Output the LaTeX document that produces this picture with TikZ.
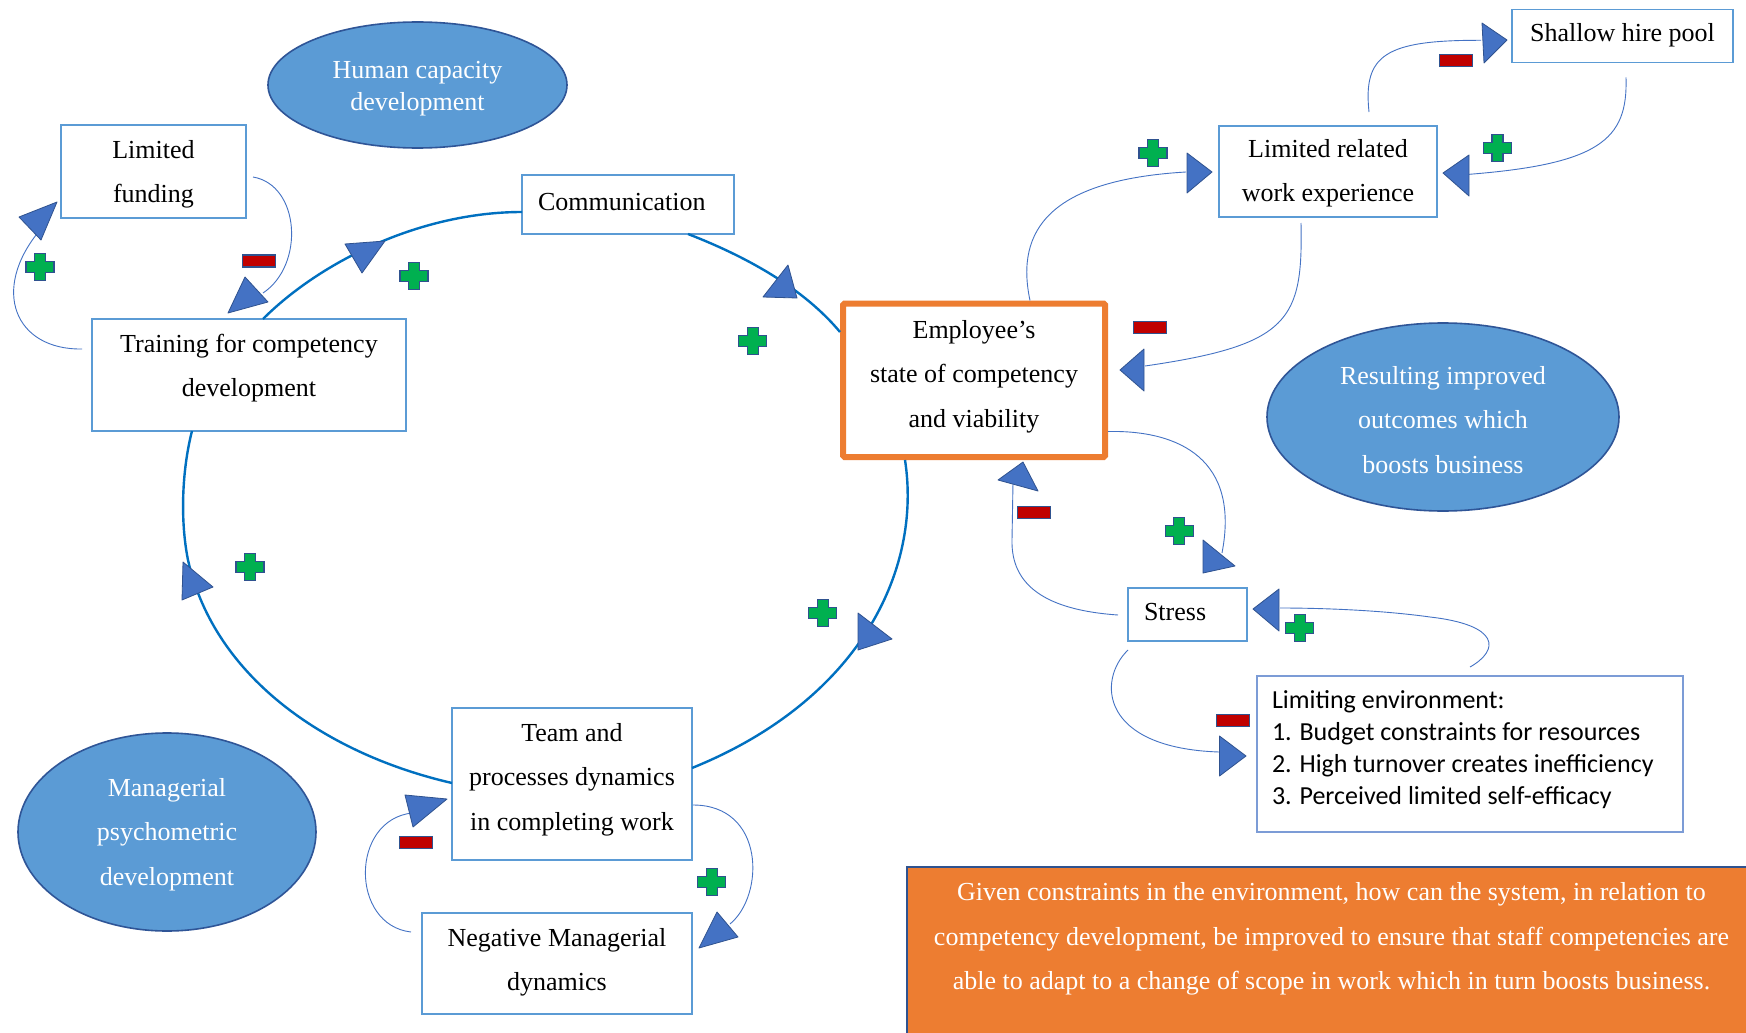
\documentclass[tikz,border=0pt]{standalone}
\usepackage{fontspec}
\setmainfont{Liberation Serif}
\newfontfamily\calfont{Carlito}
\usetikzlibrary{shapes.geometric,calc}

\definecolor{loopblue}{HTML}{0070C0}
\definecolor{linkblue}{HTML}{4472C4}
\definecolor{tipblue}{HTML}{4472C4}
\definecolor{tipedge}{HTML}{2F528F}
\definecolor{boxedge}{HTML}{5B9BD5}
\definecolor{ovalfill}{HTML}{5B9BD5}
\definecolor{ovaledge}{HTML}{2F5597}
\definecolor{accent}{HTML}{ED7D31}
\definecolor{plusgreen}{HTML}{00B050}
\definecolor{minusred}{HTML}{C00000}

% panel body: width, height, top padding, alignment, text
\newcommand\cldpanel[5]{\parbox[c][#2pt][t]{#1pt}{#4\vspace*{#3pt}\rule{0pt}{20pt}#5\par}}

\tikzset{
  panel/.style={draw=boxedge, line width=1.2pt, fill=white, inner sep=0pt, outer sep=0pt,
    anchor=north west, font=\fontsize{26}{44.5}\selectfont},
  focus/.style={panel, draw=accent, line width=6pt, rounded corners=1.5pt},
  question/.style={panel, draw=tipedge, line width=2pt, fill=accent, text=white},
  oval/.style={ellipse, draw=ovaledge, line width=1.6pt, fill=ovalfill, inner sep=0pt},
  ovaltext/.style={text=white, align=center, inner sep=0pt, anchor=north},
  mainloop/.style={draw=loopblue, line width=2.4pt},
  link/.style={draw=linkblue, line width=0.9pt},
  tip/.style={fill=tipblue, draw=tipedge, line width=0.8pt, line join=round},
  plusmark/.pic={\filldraw[fill=plusgreen, draw=tipedge, line width=1.3pt]
    (-14,-5.5) -- (-5.5,-5.5) -- (-5.5,-13.5) -- (5.5,-13.5) -- (5.5,-5.5) -- (14,-5.5)
    -- (14,5.5) -- (5.5,5.5) -- (5.5,13.5) -- (-5.5,13.5) -- (-5.5,5.5) -- (-14,5.5) -- cycle;},
  minusmark/.pic={\filldraw[fill=minusred, draw=tipedge, line width=1.3pt]
    (-16.5,-6) rectangle (16.5,6);}
}

\begin{document}
\begin{tikzpicture}[x=1pt, y=-1pt]
\useasboundingbox (0,0) rectangle (1746,1033);
\fill[white] (0,0) rectangle (1746,1033);

% ---- ovals ----
\node[oval, minimum width=299pt, minimum height=126pt] (hcd) at (417.5,85) {};
\node[ovaltext, font=\fontsize{26}{32}\selectfont] (hcdtext) at (417.5,58)
  {\rule{0pt}{20pt}Human capacity\\development};
\node[oval, minimum width=298pt, minimum height=198pt] (mpd) at (167,832) {};
\node[ovaltext, font=\fontsize{26}{44.5}\selectfont] (mpdtext) at (167,776)
  {\rule{0pt}{20pt}Managerial\\psychometric\\development};
\node[oval, minimum width=352pt, minimum height=188pt] (rio) at (1443,417) {};
\node[ovaltext, font=\fontsize{26}{44.5}\selectfont] (riotext) at (1443,364)
  {\rule{0pt}{20pt}Resulting improved\\outcomes which\\boosts business};

% ---- boxes ----
\node[panel] (fund) at (61,125) {\cldpanel{185}{93}{13}{\centering}{Limited\\funding}};
\node[panel] (train) at (92,319) {\cldpanel{314}{112}{13}{\centering}{Training for competency\\development}};
\node[panel] (comm) at (522,175) {\cldpanel{212}{59}{15}{\raggedright\leftskip=16pt}{Communication}};
\node[focus] (emp) at (843,303.5) {\cldpanel{262}{153.5}{14.5}{\centering}{Employee’s\\state of competency\\and viability}};
\node[panel] (team) at (452,708) {\cldpanel{240}{152}{13}{\centering}{Team and\\processes dynamics\\in completing work}};
\node[panel] (neg) at (422,913) {\cldpanel{270}{101}{13}{\centering}{Negative Managerial\\dynamics}};
\node[panel] (lrw) at (1219,126) {\cldpanel{218}{91}{11}{\centering}{Limited related\\work experience}};
\node[panel] (shp) at (1512,9.3) {\cldpanel{221}{53}{12.4}{\centering}{Shallow hire pool}};
\node[panel] (stress) at (1128,588) {\cldpanel{119}{53}{12.7}{\raggedright\leftskip=16pt}{Stress}};
\node[panel, draw=linkblue!70, font=\calfont\fontsize{26}{32}\selectfont] (lim) at (1257,676)
  {\cldpanel{426}{156}{12}{\raggedright\leftskip=15pt}{Limiting environment:\\1. Budget constraints for resources\\2. High turnover creates inefficiency\\3. Perceived limited self-efficacy}};
\node[question] (q) at (906.5,867) {\cldpanel{850}{170}{13.5}{\centering}{Given constraints in the environment, how can the system, in relation to\\competency development, be improved to ensure that staff competencies are\\able to adapt to a change of scope in work which in turn boosts business.}};

% ---- main reinforcing loop ----
\draw[mainloop] ($(train.north west)+(171,0)$) .. controls (320,262) and (420,212) .. ($(comm.north west)+(0,37)$);
\draw[mainloop] ($(comm.south west)+(166,0)$) .. controls (750,258) and (805,290) .. ($(emp.north west)+(-3,28.5)$);
\draw[mainloop] ($(emp.south west)+(62,3)$) .. controls (922,570) and (860,700) .. ($(team.north east)+(0,60)$);
\draw[mainloop] ($(team.north west)+(0,75)$) .. controls (330,755) and (215,680) .. (188,560)
  .. controls (180,520) and (182,470) .. ($(train.south west)+(100,0)$);

% ---- side links ----
\draw[link] ($(train.north west)+(-10,30)$) .. controls (15,350) and (-10,290) .. ($(fund.south west)+(-21,12)$);
\draw[link] ($(fund.north east)+(7,52)$) .. controls (300,185) and (305,265) .. ($(train.north west)+(171,-26)$);
\draw[link] ($(lrw.north west)+(150,-14)$) .. controls (1363,55) and (1385,40) .. ($(shp.north west)+(-31,31)$);
\draw[link] ($(shp.south west)+(114,15)$) .. controls (1628,140) and (1600,165) .. ($(lrw.north east)+(23,49)$);
\draw[link] ($(emp.north west)+(187,-3)$) .. controls (1015,230) and (1050,180) .. ($(lrw.north west)+(-33,46)$);
\draw[link] ($(lrw.south west)+(82,6)$) .. controls (1303,320) and (1290,345) .. ($(emp.north east)+(40,62.5)$);
\draw[link] ($(emp.north east)+(3,128)$) .. controls (1180,430) and (1240,460) .. ($(stress.north west)+(94,-35)$);
\draw[link] ($(stress.north west)+(-10,27)$) .. controls (1045,610) and (1011,585) .. (1012,540)
  -- ($(emp.south west)+(170,25)$);
\draw[link] ($(lim.north west)+(213,-9)$) .. controls (1500,650) and (1500,625) .. (1430,617)
  .. controls (1380,610) and (1320,608) .. ($(stress.north east)+(33,20)$);
\draw[link] ($(stress.south west)+(0,9)$) .. controls (1097,680) and (1100,748) .. ($(lim.north west)+(-38,76)$);
\draw[link] ($(team.north east)+(1,97)$) .. controls (765,805) and (765,895) .. ($(neg.north east)+(38,11)$);
\draw[link] ($(neg.north west)+(-11,19)$) .. controls (350,925) and (350,820) .. ($(team.south west)+(-40,-47)$);

% ---- arrowheads ----
\filldraw[tip] (19,217) -- (57,202) -- (41,240) -- cycle;
\filldraw[tip] (228,313) -- (245,277) -- (268,302) -- cycle;
\filldraw[tip] (345,244) -- (385,241) -- (362,273) -- cycle;
\filldraw[tip] (763,297) -- (788,265) -- (797,298) -- cycle;
\filldraw[tip] (858,613) -- (892,639) -- (858,650) -- cycle;
\filldraw[tip] (183,562) -- (213,587) -- (182,600) -- cycle;
\filldraw[tip] (405,795) -- (447,799) -- (413,827) -- cycle;
\filldraw[tip] (699,948) -- (717,912) -- (738,937) -- cycle;
\filldraw[tip] (1187,153) -- (1212,172) -- (1187,193) -- cycle;
\filldraw[tip] (1482,23) -- (1507,40) -- (1484,63) -- cycle;
\filldraw[tip] (1469,155) -- (1443,173) -- (1469,196) -- cycle;
\filldraw[tip] (1120,370) -- (1144,349) -- (1144,391) -- cycle;
\filldraw[tip] (998,480) -- (1023,462) -- (1038,491) -- cycle;
\filldraw[tip] (1203,540) -- (1235,566) -- (1203,573) -- cycle;
\filldraw[tip] (1279,589) -- (1253,609) -- (1279,631) -- cycle;
\filldraw[tip] (1219.5,736) -- (1246,756) -- (1219.5,776) -- cycle;

% ---- polarity marks ----
\pic at (40,266.7) {plusmark};
\pic at (414,275.7) {plusmark};
\pic at (752.7,340.7) {plusmark};
\pic at (250,566.7) {plusmark};
\pic at (822.7,613.3) {plusmark};
\pic at (711.7,882.3) {plusmark};
\pic at (1153,152.7) {plusmark};
\pic at (1497.6,148.3) {plusmark};
\pic at (1179.3,530.7) {plusmark};
\pic at (1299.8,628.3) {plusmark};

\pic at (259.3,261) {minusmark};
\pic at (415.7,842.3) {minusmark};
\pic at (1455.7,60.7) {minusmark};
\pic at (1150,327.7) {minusmark};
\pic at (1034.3,512.3) {minusmark};
\pic at (1232.7,720.7) {minusmark};
\end{tikzpicture}
\end{document}
